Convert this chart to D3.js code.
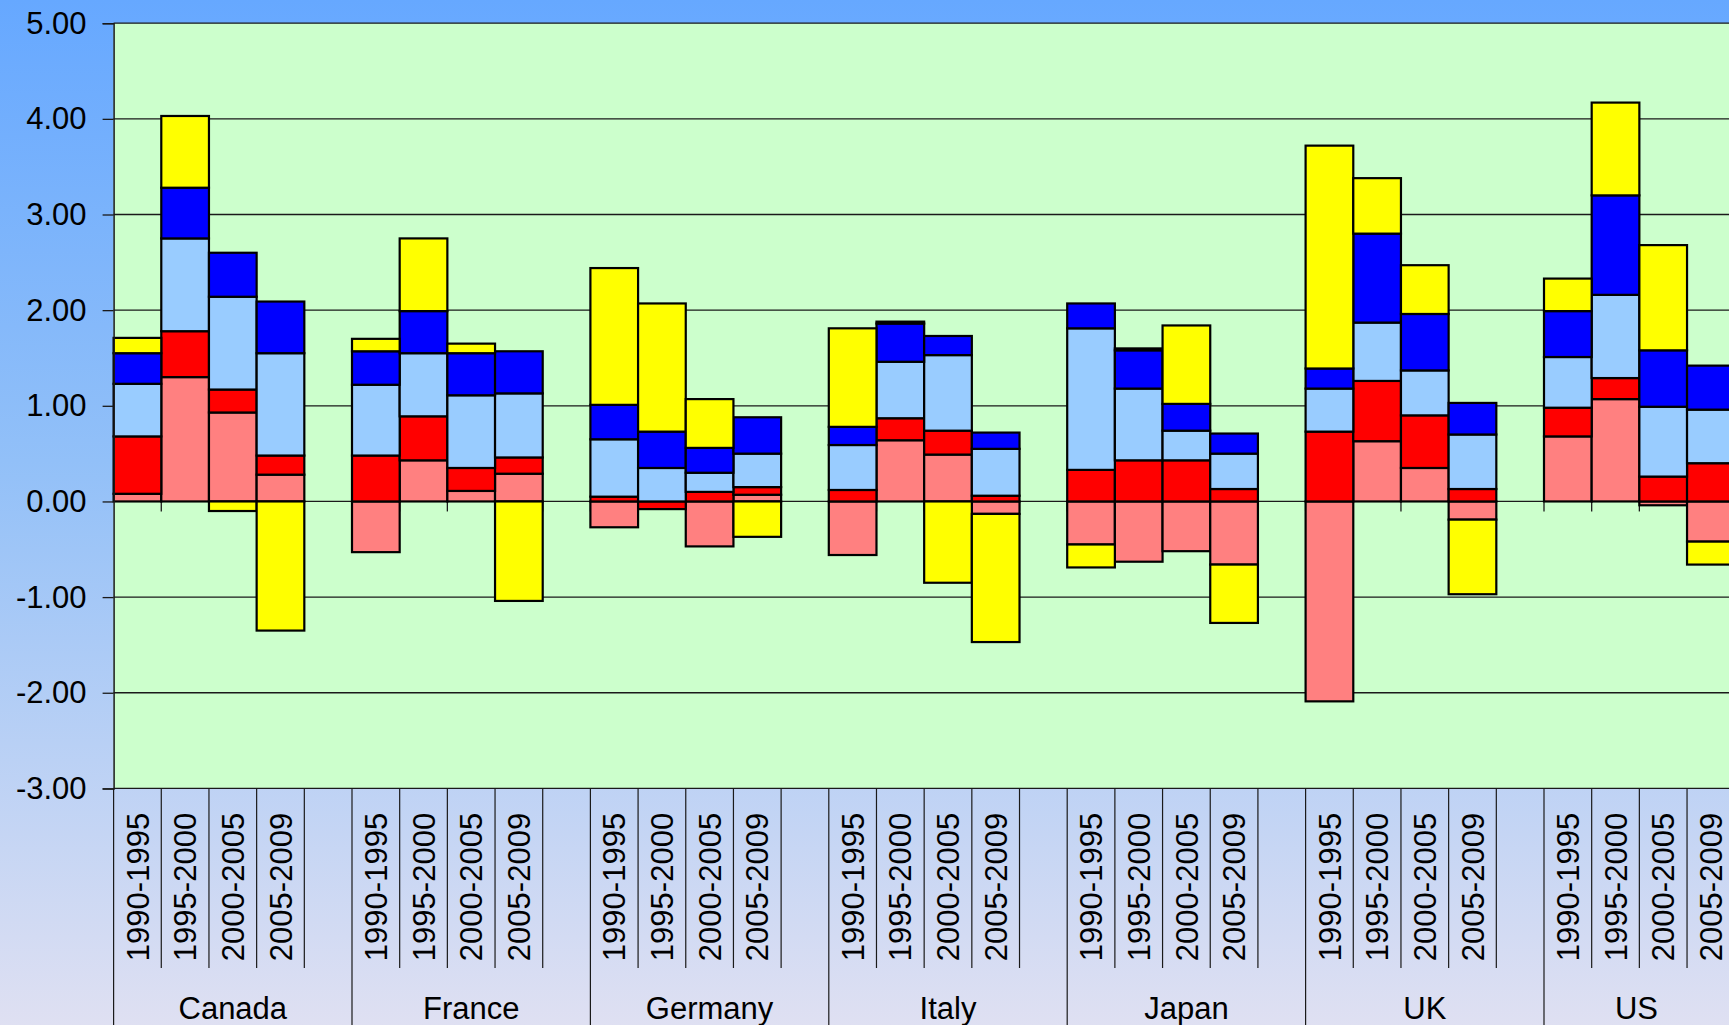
<!DOCTYPE html>
<html>
<head>
<meta charset="utf-8">
<script src="https://cdn.jsdelivr.net/npm/d3@7"></script>
<style>
  html, body { margin: 0; padding: 0; overflow: hidden; }
  svg { display: block; font-family: "Liberation Sans", Arial, sans-serif; }
</style>
</head>
<body>
<svg id="chart" width="1729" height="1025"></svg>
<script>
// categories
const countries = ["Canada", "France", "Germany", "Italy", "Japan", "UK", "US"];
const periods = ["1990-1995", "1995-2000", "2000-2005", "2005-2009"];
const yTicks = [-3, -2, -1, 0, 1, 2, 3, 4, 5];

// series values, country by country, 4 periods each
const salmon    = [0.08, 1.30, 0.93, 0.28,  -0.53, 0.43, 0.11, 0.29,  -0.27, 0.00, -0.47, 0.07,  -0.56, 0.64, 0.49, -0.13,  -0.45, -0.63, -0.52, -0.66,  -2.09, 0.63, 0.35, -0.19,  0.68, 1.07, -0.04, -0.42];
const red       = [0.60, 0.48, 0.24, 0.20,   0.48, 0.46, 0.24, 0.17,   0.05, -0.08, 0.10, 0.08,   0.12, 0.23, 0.25, 0.06,   0.33, 0.43, 0.43, 0.13,   0.73, 0.63, 0.55, 0.13,  0.30, 0.22, 0.26, 0.40];
const lightBlue = [0.55, 0.97, 0.97, 1.07,   0.74, 0.66, 0.76, 0.67,   0.60, 0.35, 0.20, 0.35,   0.47, 0.59, 0.79, 0.49,   1.48, 0.75, 0.31, 0.37,   0.45, 0.61, 0.47, 0.57,  0.53, 0.87, 0.73, 0.56];
const blue      = [0.32, 0.53, 0.46, 0.54,   0.35, 0.44, 0.44, 0.44,   0.36, 0.38, 0.26, 0.38,   0.19, 0.40, 0.20, 0.17,   0.26, 0.40, 0.28, 0.21,   0.21, 0.93, 0.59, 0.33,  0.48, 1.04, 0.59, 0.46];
const yellow    = [0.16, 0.75, -0.10, -1.35, 0.13, 0.76, 0.10, -1.04,  1.43, 1.34, 0.51, -0.37,  1.03, 0.02, -0.85, -1.34, -0.24, 0.02, 0.82, -0.61,  2.33, 0.58, 0.51, -0.78,  0.34, 0.97, 1.10, -0.24];

const seriesKeys = ["salmon", "red", "lightBlue", "blue", "yellow"];
const seriesColors = { salmon: "#FF8080", red: "#FF0000", lightBlue: "#99CCFF", blue: "#0000FF", yellow: "#FFFF00" };
const seriesValues = { salmon, red, lightBlue, blue, yellow };

// one row per bar; every country has a fifth empty slot as spacer
const slots = [];
const rows = [];
countries.forEach((c, ci) => {
    periods.forEach((p, pi) => {
        const key = c + "|" + p;
        slots.push(key);
        const row = { key: key, country: c, period: p };
        seriesKeys.forEach(s => { row[s] = seriesValues[s][ci * 4 + pi]; });
        rows.push(row);
    });
    slots.push(c + "|gap");
});

const W = 1729, H = 1025;
const plot = { left: 113.6, top: 23.2, bottom: 788.4 };
const slotW = 47.68;

const svg = d3.select("#chart");

// background gradient
const defs = svg.append("defs");
const grad = defs.append("linearGradient").attr("id", "bg").attr("x1", 0).attr("y1", 0).attr("x2", 0).attr("y2", 1);
grad.append("stop").attr("offset", "0%").attr("stop-color", "#66A8FF");
grad.append("stop").attr("offset", "45%").attr("stop-color", "#92C0F8");
grad.append("stop").attr("offset", "100%").attr("stop-color", "#DFE0F2");
svg.append("rect").attr("width", W).attr("height", H).attr("fill", "url(#bg)");

const x = d3.scaleBand()
    .domain(slots)
    .range([plot.left, plot.left + slots.length * slotW])
    .padding(0);

const y = d3.scaleLinear()
    .domain([-3, 5])
    .range([plot.bottom, plot.top]);

const plotRight = plot.left + slots.length * slotW;

// plot area
svg.append("rect")
    .attr("x", plot.left).attr("y", plot.top)
    .attr("width", plotRight - plot.left).attr("height", plot.bottom - plot.top)
    .attr("fill", "#CCFFCC");

// gridlines
svg.append("g").selectAll("line")
    .data(yTicks)
    .join("line")
    .attr("x1", plot.left).attr("x2", plotRight)
    .attr("y1", d => y(d)).attr("y2", d => y(d))
    .attr("stroke", "#1a1a1a").attr("stroke-width", 1.3);

// small category ticks hanging below the zero line
svg.append("g").selectAll("line")
    .data(slots)
    .join("line")
    .attr("x1", d => x(d) + slotW).attr("x2", d => x(d) + slotW)
    .attr("y1", y(0)).attr("y2", y(0) + 10)
    .attr("stroke", "#1a1a1a").attr("stroke-width", 1.3);

// stacked bars, negatives stacked downward
const stack = d3.stack().keys(seriesKeys).offset(d3.stackOffsetDiverging);
const layers = stack(rows);

svg.append("g").selectAll("g")
    .data(layers)
    .join("g")
    .attr("fill", d => seriesColors[d.key])
    .selectAll("rect")
    .data(d => d.filter(p => p[1] !== p[0]))
    .join("rect")
    .attr("x", d => x(d.data.key))
    .attr("width", x.bandwidth())
    .attr("y", d => y(Math.max(d[0], d[1])))
    .attr("height", d => Math.abs(y(d[0]) - y(d[1])))
    .attr("stroke", "#000")
    .attr("stroke-width", 2.2);

// value axis
const locale = d3.formatLocale({ decimal: ".", thousands: ",", grouping: [3], currency: ["", ""], minus: "-" });
const yAxis = d3.axisLeft(y)
    .tickValues(yTicks)
    .tickFormat(locale.format(".2f"))
    .tickSize(11)
    .tickPadding(16);

svg.append("g")
    .attr("transform", `translate(${plot.left},0)`)
    .call(yAxis)
    .call(g => g.select(".domain").attr("stroke", "#1a1a1a").attr("stroke-width", 1.5))
    .call(g => g.selectAll(".tick line").attr("stroke", "#1a1a1a").attr("stroke-width", 1.3))
    .call(g => g.selectAll(".tick text")
        .attr("fill", "#000")
        .attr("font-size", 31)
        .attr("font-family", "Liberation Sans, Arial, sans-serif"));

// category axis: period labels and separators
const catAxis = svg.append("g");
const labelBottom = 968;

catAxis.selectAll("line.slot")
    .data(slots.filter(s => !s.endsWith("|gap")))
    .join("line")
    .attr("class", "slot")
    .attr("x1", d => x(d) + slotW).attr("x2", d => x(d) + slotW)
    .attr("y1", plot.bottom).attr("y2", labelBottom)
    .attr("stroke", "#1a1a1a").attr("stroke-width", 1.2);

catAxis.selectAll("line.group")
    .data(countries)
    .join("line")
    .attr("class", "group")
    .attr("x1", d => x(d + "|1990-1995")).attr("x2", d => x(d + "|1990-1995"))
    .attr("y1", plot.bottom).attr("y2", H)
    .attr("stroke", "#1a1a1a").attr("stroke-width", 1.2);

catAxis.selectAll("text.period")
    .data(rows)
    .join("text")
    .attr("class", "period")
    .attr("transform", d => `translate(${x(d.key) + slotW / 2},${887}) rotate(-90)`)
    .attr("text-anchor", "middle")
    .attr("dy", "0.36em")
    .attr("font-size", 31)
    .attr("fill", "#000")
    .text(d => d.period);

// country names centred on the visible part of their group
catAxis.selectAll("text.country")
    .data(countries)
    .join("text")
    .attr("class", "country")
    .attr("x", d => {
        const start = x(d + "|1990-1995");
        const end = Math.min(start + 5 * slotW, W);
        return (start + end) / 2;
    })
    .attr("y", 1019)
    .attr("text-anchor", "middle")
    .attr("font-size", 31)
    .attr("fill", "#000")
    .text(d => d);
</script>
</body>
</html>
